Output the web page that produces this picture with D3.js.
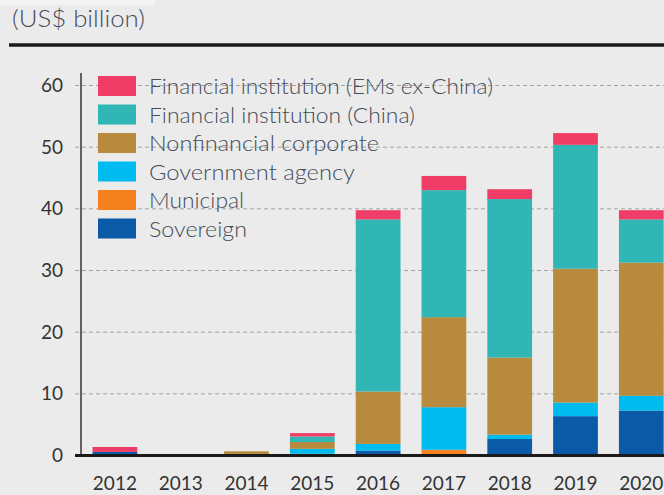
<!DOCTYPE html>
<html>
<head>
<meta charset="utf-8">
<script src="https://d3js.org/d3.v7.min.js"></script>
<style>
  body { margin: 0; background: #ebebeb; }
  svg { display: block; }
  text { font-family: Lato, "Open Sans", sans-serif; }
</style>
</head>
<body>
<div id="chart"></div>
<script>

// values in US$ billion
var years = ["2012", "2013", "2014", "2015", "2016", "2017", "2018", "2019", "2020"];
var sovereign    = [0.5, 0, 0,   0,   0.7,  0,    2.6,  6.3,  7.2];
var municipal    = [0,   0, 0,   0.2, 0,    0.85, 0,    0,    0];
var government   = [0,   0, 0,   0.8, 1.1,  6.9,  0.7,  2.2,  2.4];
var nonfinancial = [0,   0, 0.6, 1.1, 8.5,  14.6, 12.5, 21.7, 21.6];
var china        = [0,   0, 0,   0.9, 27.9, 20.6, 25.7, 20.1, 7.0];
var emsExChina   = [0.8, 0, 0,   0.55, 1.5, 2.3,  1.6,  1.9,  1.5];
var yTicks = [0, 10, 20, 30, 40, 50, 60];

var series = [
  {key: "sovereign",    label: "Sovereign",                            values: sovereign,    color: "#0a5aa8"},
  {key: "municipal",    label: "Municipal",                            values: municipal,    color: "#f5821f"},
  {key: "government",   label: "Government agency",                    values: government,   color: "#00bbf0"},
  {key: "nonfinancial", label: "Nonfinancial corporate",               values: nonfinancial, color: "#b78a3e"},
  {key: "china",        label: "Financial institution (China)",        values: china,        color: "#2fb6b5"},
  {key: "emsExChina",   label: "Financial institution (EMs ex-China)", values: emsExChina,   color: "#ef3d67"}
];
// widths of the legend texts in the picture
var legendWidths = {emsExChina: 344, china: 266, nonfinancial: 230, government: 206, municipal: 95, sovereign: 98};

var W = 664, H = 495;

var rows = years.map(function(y, i) {
  var r = {year: y};
  series.forEach(function(s) { r[s.key] = s.values[i]; });
  return r;
});
var stacked = d3.stack().keys(series.map(function(s) { return s.key; }))(rows);

var svg = d3.select("#chart").append("svg")
    .attr("width", W)
    .attr("height", H);

svg.append("rect").attr("width", W).attr("height", H).attr("fill", "#ebebeb");
// leftover of the cut-off title box
svg.append("rect").attr("x", 0).attr("y", 0).attr("width", 155).attr("height", 5).attr("fill", "#f3f3f3");

svg.append("text")
    .attr("x", 12)
    .attr("y", 27)
    .attr("textLength", 133)
    .attr("lengthAdjust", "spacingAndGlyphs")
    .style("font-size", "23px")
    .style("font-weight", 300)
    .style("fill", "#454c5a")
    .text("(US$ billion)");

svg.append("line")
    .attr("x1", 9).attr("x2", W)
    .attr("y1", 45).attr("y2", 45)
    .attr("stroke", "#1a1a1a")
    .attr("stroke-width", 3.5);

var x = d3.scaleBand()
    .domain(years)
    .range([82, 82 + 9 * 65.8])
    .paddingInner(0.32)
    .paddingOuter(0.16);

var y = d3.scaleLinear()
    .domain([0, 60])
    .range([455, 85]);

// gridlines + tick labels
var yAxis = svg.append("g")
    .attr("transform", "translate(81,0)")
    .call(d3.axisLeft(y).tickValues(yTicks).tickSize(-(W - 81)).tickPadding(18));
yAxis.select(".domain").remove();
yAxis.selectAll(".tick line")
    .attr("x1", -6)
    .attr("stroke", "#a3a3a3")
    .attr("stroke-dasharray", "4,3");
yAxis.selectAll(".tick text")
    .style("font-size", "19px")
    .style("fill", "#333")
    .attr("dy", "0.35em");

// legend (gridlines show through behind it)
var legend = svg.append("g");
series.slice().reverse().forEach(function(s, i) {
  var cy = 86 + i * 28.5;
  legend.append("rect")
      .attr("x", 98).attr("y", cy - 10)
      .attr("width", 38).attr("height", 20)
      .attr("fill", s.color);
  legend.append("text")
      .attr("x", 149)
      .attr("y", cy)
      .attr("dy", "0.37em")
      .attr("textLength", legendWidths[s.key])
      .attr("lengthAdjust", "spacingAndGlyphs")
      .style("font-size", "22px")
      .style("font-weight", 300)
      .style("fill", "#454c5a")
      .text(s.label);
});

// bars
svg.append("g")
  .selectAll("g")
  .data(stacked)
  .enter().append("g")
    .attr("fill", function(d, i) { return series[i].color; })
  .selectAll("rect")
  .data(function(d) { return d; })
  .enter().append("rect")
    .attr("x", function(d) { return x(d.data.year); })
    .attr("y", function(d) { return y(d[1]); })
    .attr("width", x.bandwidth())
    .attr("height", function(d) { return y(d[0]) - y(d[1]); });

// y axis line
svg.append("line")
    .attr("x1", 81).attr("x2", 81)
    .attr("y1", 73).attr("y2", 455)
    .attr("stroke", "#333")
    .attr("stroke-width", 1.5);

// zero line
svg.append("line")
    .attr("x1", 75).attr("x2", W)
    .attr("y1", 455.5).attr("y2", 455.5)
    .attr("stroke", "#1a1a1a")
    .attr("stroke-width", 3);

var xAxis = svg.append("g")
    .attr("transform", "translate(0,456)")
    .call(d3.axisBottom(x).tickSize(0).tickPadding(21));
xAxis.select(".domain").remove();
xAxis.selectAll(".tick text")
    .style("font-size", "19px")
    .style("fill", "#333");

</script>
</body>
</html>
